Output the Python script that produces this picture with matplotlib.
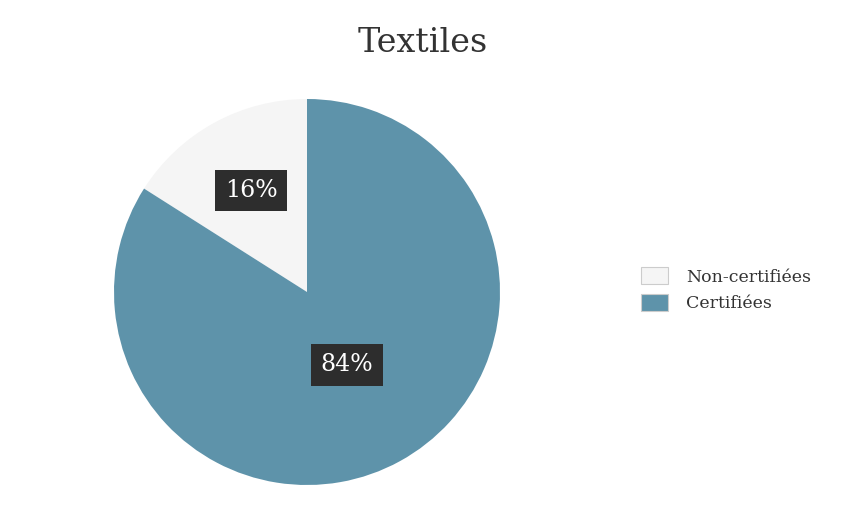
import numpy as np
import matplotlib.pyplot as plt
from matplotlib.patches import Patch

# Data
labels = ["Non-certifiées", "Certifiées"]
values = [16, 84]
colors = ["#f5f5f5", "#5e93aa"]

plt.rcParams["font.family"] = ["DejaVu Serif"]

fig = plt.figure(figsize=(8.48, 5.14), dpi=100)
ax = fig.add_axes([0.0, 0.0, 1.0, 1.0])

# pie in pixel coordinates (y axis inverted below)
cx, cy, r = 307, 292, 193
wedges, _ = ax.pie(values, colors=colors, startangle=90, counterclock=True,
                   radius=r, center=(cx, cy), frame=True,
                   wedgeprops=dict(linewidth=0))
ax.set_xlim(0, 848)
ax.set_ylim(514, 0)
ax.set_aspect("equal")
ax.axis("off")

total = sum(values)
start = 90
label_dist = [0.6, 0.43]
for i, v in enumerate(values):
    span = 360 * v / total
    # mirror angles because of the inverted y axis
    wedges[i].set_theta1(-(start + span))
    wedges[i].set_theta2(-start)
    mid = np.deg2rad(start + span / 2)
    tx = cx + label_dist[i] * r * np.cos(mid)
    ty = cy - label_dist[i] * r * np.sin(mid)
    ax.text(tx, ty, f"{v}%", color="white", fontsize=17, ha="center", va="center",
            bbox=dict(boxstyle="square,pad=0.4", fc="#2d2d2d", ec="none"))
    start += span

ax.text(423, 43, "Textiles", fontsize=24, color="#333333", ha="center", va="center")

handles = [Patch(facecolor=c, edgecolor="#cccccc", linewidth=0.8) for c in colors]
fig.legend(handles, labels, loc="center left", bbox_to_anchor=(0.737, 0.436),
           frameon=False, fontsize=12.5, handlelength=1.6, handleheight=1.1,
           handletextpad=1.0, labelspacing=0.5, labelcolor="#333333")

fig.savefig("out.png", dpi=100)
